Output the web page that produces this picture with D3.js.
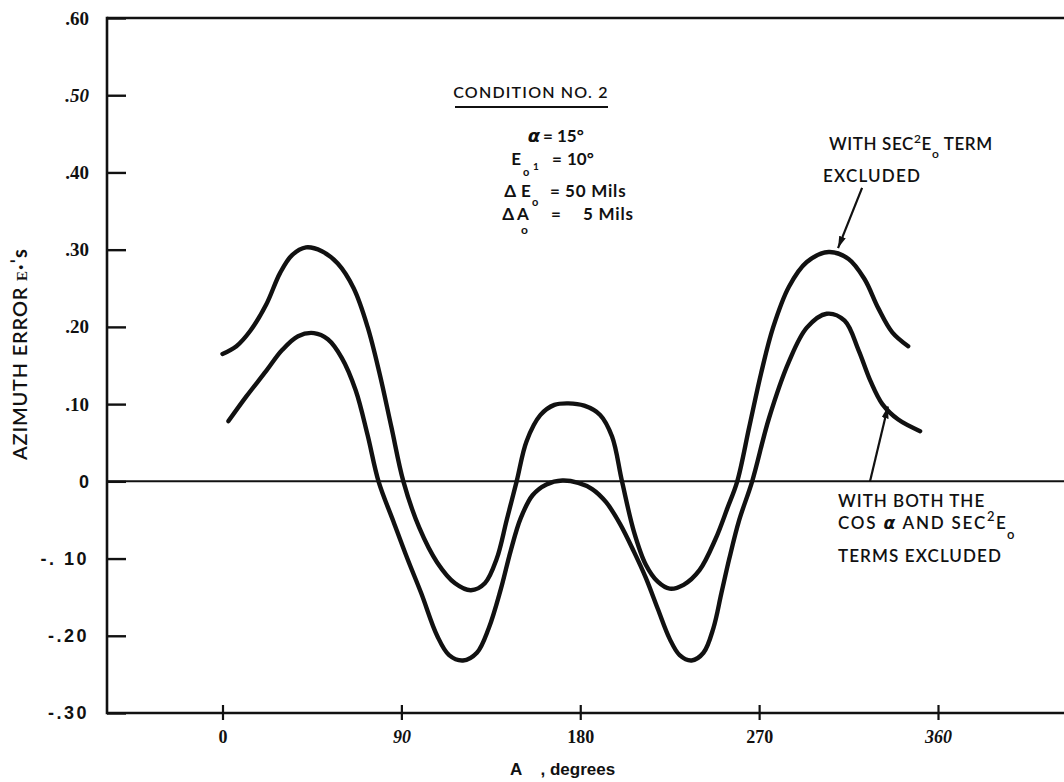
<!DOCTYPE html>
<html><head><meta charset="utf-8">
<script src="https://cdn.jsdelivr.net/npm/d3@7"></script>
<style>body{margin:0;background:#fff}svg{display:block}</style>
</head><body>
<svg id="c" width="1064" height="782"></svg>
<script>
// ---------- data ----------
const xTickValues = [0, 90, 180, 270, 360];
const xTickLabels = ["0", "90", "180", "270", "360"];
const yTickValues = [-0.3, -0.2, -0.1, 0, 0.1, 0.2, 0.3, 0.4, 0.5, 0.6];
const yTickLabels = ["-.30", "-.20", "-. 10", "0", ".10", ".20", ".30", ".40", ".50", ".60"];

// "WITH SEC²E₀ TERM EXCLUDED"
const upperDeg = [0, 7, 14, 22, 29, 35, 42, 50, 58, 66, 73, 79, 85, 91, 99, 108, 117, 125, 132, 138, 143, 148, 153, 160, 167, 174, 182, 190, 196, 201, 207, 213, 219, 225, 232, 240, 248, 254, 259, 265, 271, 277, 285, 294, 305, 315, 323, 330, 337, 345];
const upperVal = [0.165, 0.175, 0.195, 0.229, 0.27, 0.293, 0.303, 0.298, 0.282, 0.25, 0.2, 0.14, 0.07, 0.0, -0.06, -0.105, -0.132, -0.141, -0.132, -0.1, -0.05, 0.0, 0.052, 0.086, 0.099, 0.101, 0.098, 0.086, 0.058, 0.0, -0.065, -0.108, -0.13, -0.139, -0.134, -0.115, -0.075, -0.035, 0.0, 0.07, 0.14, 0.199, 0.252, 0.284, 0.297, 0.288, 0.262, 0.224, 0.193, 0.175];

// "WITH BOTH THE COS α AND SEC²E₀ TERMS EXCLUDED"
const lowerDeg = [3, 12, 22, 30, 38, 46, 53, 60, 67, 73, 78.5, 86, 93, 100, 108, 114, 121, 128, 134, 140, 145, 150, 156, 163, 171, 179, 186, 193, 200, 207, 213, 219, 225, 230, 236, 242, 247, 251, 255, 260, 266.5, 275, 285, 294, 304, 313, 320, 326, 332, 340, 351];
const lowerVal = [0.078, 0.11, 0.143, 0.17, 0.188, 0.192, 0.184, 0.16, 0.118, 0.06, 0.0, -0.052, -0.1, -0.145, -0.2, -0.225, -0.232, -0.222, -0.19, -0.14, -0.09, -0.048, -0.018, -0.004, 0.001, -0.002, -0.01, -0.027, -0.055, -0.091, -0.125, -0.165, -0.204, -0.225, -0.232, -0.222, -0.19, -0.145, -0.1, -0.05, 0.0, 0.082, 0.155, 0.199, 0.217, 0.208, 0.17, 0.13, 0.1, 0.08, 0.065];

// ---------- chart ----------
const svg = d3.select("#c");
const x = d3.scaleLinear().domain([0, 360]).range([222.5, 938]);
const y = d3.scaleLinear().domain([-0.3, 0.6]).range([713, 18]);
const frameLeft = 107, frameRight = 1064;
const ink = "#111";

// frame
svg.append("line").attr("x1", frameLeft).attr("x2", frameRight).attr("y1", y(0.6)).attr("y2", y(0.6))
  .attr("stroke", ink).attr("stroke-width", 2.6);
svg.append("line").attr("x1", frameLeft).attr("x2", frameRight).attr("y1", y(-0.3)).attr("y2", y(-0.3))
  .attr("stroke", ink).attr("stroke-width", 2.6);
svg.append("line").attr("x1", frameLeft).attr("x2", frameLeft).attr("y1", y(0.6) - 1.3).attr("y2", y(-0.3) + 1.3)
  .attr("stroke", ink).attr("stroke-width", 2.6);
// zero line
svg.append("line").attr("x1", frameLeft).attr("x2", frameRight).attr("y1", y(0)).attr("y2", y(0))
  .attr("stroke", ink).attr("stroke-width", 2);

// y axis
const serifLabels = new Set([".10", ".20", ".30", ".40", ".50", ".60"]);
const labelOf = d => yTickLabels[yTickValues.indexOf(d)];
const yAxis = svg.append("g").attr("transform", `translate(${frameLeft},0)`)
  .call(d3.axisLeft(y).tickValues(yTickValues).tickFormat((d, i) => yTickLabels[i])
    .tickSizeInner(-19).tickSizeOuter(0).tickPadding(18));
yAxis.select(".domain").remove();
yAxis.selectAll(".tick line").attr("stroke", ink).attr("stroke-width", 2.4);
yAxis.selectAll(".tick text")
  .attr("fill", ink)
  .style("font-family", d => serifLabels.has(labelOf(d)) ? "'Liberation Serif', serif" : "'Liberation Sans', Arial, sans-serif")
  .style("font-weight", "bold")
  .style("font-style", d => d === 0.5 ? "italic" : "normal")
  .style("letter-spacing", d => d < 0 ? "2.5px" : "0px")
  .style("font-size", d => serifLabels.has(labelOf(d)) ? "19px" : "18px");

// x axis
const xAxis = svg.append("g").attr("transform", `translate(0,${y(-0.3)})`)
  .call(d3.axisBottom(x).tickValues(xTickValues).tickFormat((d, i) => xTickLabels[i])
    .tickSizeInner(7).tickSizeOuter(0).tickPadding(10));
xAxis.select(".domain").remove();
xAxis.selectAll(".tick line").attr("y1", -8).attr("stroke", ink).attr("stroke-width", 2.2);
xAxis.selectAll(".tick text")
  .attr("fill", ink)
  .style("font-family", "'Liberation Serif', serif")
  .style("font-weight", "bold")
  .style("font-style", d => (d === 90 || d === 360) ? "italic" : "normal")
  .style("font-size", "18px");

// curves
const line = d3.line().x(d => x(d[0])).y(d => y(d[1])).curve(d3.curveCatmullRom.alpha(0.5));
const upper = upperDeg.map((d, i) => [d, upperVal[i]]);
const lower = lowerDeg.map((d, i) => [d, lowerVal[i]]);
[upper, lower].forEach(s => {
  svg.append("path").datum(s).attr("d", line).attr("fill", "none")
    .attr("stroke", ink).attr("stroke-width", 4.4).attr("stroke-linecap", "round").attr("stroke-linejoin", "round");
});

// arrows
svg.append("defs").append("marker").attr("id", "ah").attr("viewBox", "0 0 12 7")
  .attr("refX", 12).attr("refY", 3.5).attr("markerWidth", 12).attr("markerHeight", 7)
  .attr("markerUnits", "userSpaceOnUse").attr("orient", "auto")
  .append("path").attr("d", "M0,0 L12,3.5 L0,7 Z").attr("fill", ink);
const arrows = [
  { from: [321.8, 0.38], to: [309.7, 0.302] },
  { from: [325.8, 0.0], to: [334.8, 0.097] }
];
arrows.forEach(a => {
  svg.append("line").attr("x1", x(a.from[0])).attr("y1", y(a.from[1]))
    .attr("x2", x(a.to[0])).attr("y2", y(a.to[1]))
    .attr("stroke", ink).attr("stroke-width", 2.2).attr("marker-end", "url(#ah)");
});

// ---------- texts ----------
const ann = "Lato, 'Open Sans', sans-serif";
function piece(t, xp, yp, s, size, opts = {}) {
  const sp = t.append("tspan").attr("x", xp).attr("y", yp).text(s);
  if (size) sp.style("font-size", size + "px");
  if (opts.anchor) sp.attr("text-anchor", opts.anchor);
  if (opts.family) sp.style("font-family", opts.family);
  if (opts.italic) sp.style("font-style", "italic");
  if (opts.ls != null) sp.style("letter-spacing", opts.ls + "px");
  return sp;
}
function block(size, weight) {
  return svg.append("text").attr("fill", ink).style("font-family", ann)
    .style("font-size", size + "px").style("font-weight", weight);
}

// condition block
const cb = block(17, "bold");
piece(cb, 531, 98, "CONDITION NO. 2", 16, { anchor: "middle", ls: 1.2 }).style("font-weight", "600");
piece(cb, 540, 142, "α", 18, { anchor: "end", family: "'DejaVu Sans', sans-serif", italic: true });
piece(cb, 548, 142, "=", null, { anchor: "middle" });
piece(cb, 557, 142, "15°");
piece(cb, 521, 165, "E", null, { anchor: "end" });
piece(cb, 523, 176, "o", 11);
piece(cb, 533, 170, "1", 10);
piece(cb, 557, 165, "=", null, { anchor: "middle" });
piece(cb, 567, 165, "10°");
piece(cb, 516, 197, "Δ", null, { anchor: "end" });
piece(cb, 521, 197, "E");
piece(cb, 532, 206, "o", 11);
piece(cb, 555, 197, "=", null, { anchor: "middle" });
piece(cb, 565, 197, "50 Mils", null, { ls: 0.8 });
piece(cb, 514, 220, "Δ", null, { anchor: "end" });
piece(cb, 517, 220, "A");
piece(cb, 521, 234, "o", 12);
piece(cb, 556, 220, "=", null, { anchor: "middle" });
piece(cb, 583, 220, "5 Mils", null, { ls: 0.8 });
svg.append("line").attr("x1", 455).attr("x2", 608).attr("y1", 107).attr("y2", 107).attr("stroke", ink).attr("stroke-width", 2);

// right upper annotation
const ra = block(17, "600").style("letter-spacing", "0.6px");
piece(ra, 829, 150, "WITH SEC");
ra.append("tspan").attr("dy", -7).style("font-size", "12px").text("2");
ra.append("tspan").attr("dy", 7).text("E");
ra.append("tspan").attr("dy", 8).style("font-size", "12px").text("o");
ra.append("tspan").attr("dy", -8).text(" TERM");
piece(ra, 872, 182, "EXCLUDED", null, { anchor: "middle", ls: 1.2 });

// right lower annotation
const rb = block(17, "600").style("letter-spacing", "1.3px");
piece(rb, 838, 507, "WITH BOTH THE", null, { ls: 1.0 });
piece(rb, 838, 529, "COS ", null, { ls: 1.8 });
rb.append("tspan").style("font-family", "'DejaVu Sans', sans-serif").style("font-weight", "bold").style("font-style", "italic").text("α");
rb.append("tspan").style("letter-spacing", "1.8px").text(" AND SEC");
rb.append("tspan").attr("dy", -8).style("font-size", "13px").text("2");
rb.append("tspan").attr("dy", 8).text("E");
rb.append("tspan").attr("dy", 10).style("font-size", "13px").text("o");
piece(rb, 838, 562, "TERMS EXCLUDED", null, { ls: 1.1 });

// axis titles
const yt = svg.append("text").attr("transform", "translate(27,460) rotate(-90)").attr("fill", ink)
  .style("font-family", ann).style("font-size", "20px").style("font-weight", "600").style("letter-spacing", "0.8px");
yt.append("tspan").text("AZIMUTH ERROR  ");
yt.append("tspan").style("font-family", "'Liberation Serif', serif").style("font-weight", "bold").style("font-size", "15px").text("E");
yt.append("tspan").style("font-weight", "bold").text("·ˈs");

svg.append("text").attr("x", 510).attr("y", 775).attr("fill", ink)
  .style("font-family", "'Liberation Sans', Arial, sans-serif").style("font-weight", "bold").style("font-size", "17px")
  .attr("xml:space", "preserve").text("A    , degrees");
</script>
</body></html>
